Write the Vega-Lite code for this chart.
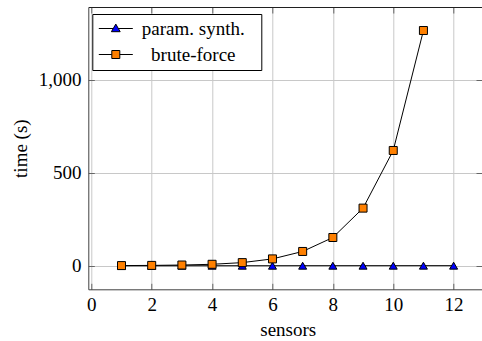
{
  "$schema": "https://vega.github.io/schema/vega-lite/v6.json",
  "width": 393.7,
  "height": 282.3,
  "autosize": {"type": "none"},
  "padding": {"left": 88.3, "top": 7, "right": 0, "bottom": 51.7},
  "background": "white",
  "config": {
    "view": {"stroke": null},
    "font": "Liberation Serif"
  },
  "data": {
    "values": [
      {"sensors": 1, "time": 0.1, "series": "param. synth."},
      {"sensors": 2, "time": 0.1, "series": "param. synth."},
      {"sensors": 3, "time": 0.2, "series": "param. synth."},
      {"sensors": 4, "time": 0.2, "series": "param. synth."},
      {"sensors": 5, "time": 0.3, "series": "param. synth."},
      {"sensors": 6, "time": 0.3, "series": "param. synth."},
      {"sensors": 7, "time": 0.4, "series": "param. synth."},
      {"sensors": 8, "time": 0.4, "series": "param. synth."},
      {"sensors": 9, "time": 0.5, "series": "param. synth."},
      {"sensors": 10, "time": 0.5, "series": "param. synth."},
      {"sensors": 11, "time": 0.6, "series": "param. synth."},
      {"sensors": 12, "time": 0.6, "series": "param. synth."},
      {"sensors": 1, "time": 1, "series": "brute-force"},
      {"sensors": 2, "time": 2, "series": "brute-force"},
      {"sensors": 3, "time": 4, "series": "brute-force"},
      {"sensors": 4, "time": 8, "series": "brute-force"},
      {"sensors": 5, "time": 17, "series": "brute-force"},
      {"sensors": 6, "time": 37, "series": "brute-force"},
      {"sensors": 7, "time": 77, "series": "brute-force"},
      {"sensors": 8, "time": 152, "series": "brute-force"},
      {"sensors": 9, "time": 310, "series": "brute-force"},
      {"sensors": 10, "time": 620, "series": "brute-force"},
      {"sensors": 11, "time": 1265, "series": "brute-force"}
    ]
  },
  "layer": [
    {
      "mark": {"type": "line", "color": "#000", "strokeWidth": 1},
      "encoding": {
        "x": {
          "field": "sensors", "type": "quantitative",
          "scale": {"domain": [-0.1, 12.94], "nice": false, "zero": false},
          "axis": {
            "orient": "bottom",
            "values": [0, 2, 4, 6, 8, 10, 12],
            "grid": true, "gridColor": "#c8c8c8", "gridWidth": 1,
            "domain": true, "domainColor": "#404040", "domainWidth": 1,
            "ticks": true, "tickColor": "#666666", "tickSize": -6, "tickWidth": 1,
            "labelPadding": 12, "labelFont": "Liberation Serif", "labelFontSize": 19, "labelColor": "#000",
            "title": "sensors", "titleFont": "Liberation Serif", "titleFontSize": 19, "titleFontWeight": "normal", "titleColor": "#000",
            "titleX": 199.4, "titleY": 46.5, "titleBaseline": "alphabetic"
          }
        },
        "y": {
          "field": "time", "type": "quantitative",
          "scale": {"domain": [-126.5, 1391.5], "nice": false, "zero": false},
          "axis": {
            "orient": "left",
            "values": [0, 500, 1000],
            "labelExpr": "datum.value === 1000 ? '1,000' : datum.value === 500 ? '500' : '0'",
            "grid": true, "gridColor": "#c8c8c8", "gridWidth": 1,
            "domain": true, "domainColor": "#404040", "domainWidth": 1,
            "ticks": true, "tickColor": "#666666", "tickSize": -6, "tickWidth": 1,
            "labelPadding": 13.3, "labelFont": "Liberation Serif", "labelFontSize": 19, "labelColor": "#000",
            "title": "time (s)", "titleFont": "Liberation Serif", "titleFontSize": 19, "titleFontWeight": "normal", "titleColor": "#000",
            "titleAngle": 270, "titleX": -62.3, "titleBaseline": "alphabetic"
          }
        },
        "detail": {"field": "series", "type": "nominal"}
      }
    },
    {
      "mark": {"type": "point", "filled": true, "opacity": 1, "size": 64, "stroke": "#000", "strokeWidth": 1},
      "encoding": {
        "x": {
          "field": "sensors", "type": "quantitative",
          "scale": {"domain": [-0.1, 12.94], "nice": false, "zero": false},
          "axis": {
            "orient": "top", "values": [0, 2, 4, 6, 8, 10, 12],
            "labels": false, "title": null, "grid": false,
            "domain": true, "domainColor": "#202020", "domainWidth": 1,
            "ticks": true, "tickColor": "#666666", "tickSize": -6, "tickWidth": 1
          }
        },
        "y": {
          "field": "time", "type": "quantitative",
          "scale": {"domain": [-126.5, 1391.5], "nice": false, "zero": false},
          "axis": {
            "orient": "right", "values": [0, 500, 1000],
            "labels": false, "title": null, "grid": false, "domain": false,
            "ticks": true, "tickColor": "#666666", "tickSize": -6, "tickWidth": 1
          }
        },
        "shape": {
          "field": "series", "type": "nominal",
          "scale": {"domain": ["param. synth.", "brute-force"], "range": ["triangle-up", "square"]},
          "legend": null
        },
        "fill": {
          "field": "series", "type": "nominal",
          "scale": {"domain": ["param. synth.", "brute-force"], "range": ["#0000ff", "#ff8000"]},
          "legend": null
        }
      }
    },
    {
      "mark": {"type": "point", "filled": true, "opacity": 0, "size": 64, "stroke": "#000", "strokeWidth": 1},
      "encoding": {
        "x": {"field": "sensors", "type": "quantitative", "scale": {"domain": [-0.1, 12.94], "nice": false, "zero": false}, "axis": null},
        "y": {"field": "time", "type": "quantitative", "scale": {"domain": [-126.5, 1391.5], "nice": false, "zero": false}, "axis": null},
        "shape": {
          "field": "series", "type": "nominal",
          "scale": {"domain": ["param. synth.", "brute-force"], "range": ["M-2.125,0H-0.32M0.32,0H2.125M0,-0.55L0.55,0.4H-0.55Z", "M-2.125,0H-0.5M0.5,0H2.125M-0.5,-0.5H0.5V0.5H-0.5Z"]},
          "legend": {
            "title": "\u2003", "titleOrient": "right", "titlePadding": 12, "titleFontSize": 18,
            "orient": "none", "legendX": 4, "legendY": 7,
            "padding": 5, "strokeColor": "#000", "fillColor": "#fff",
            "symbolSize": 256, "symbolStrokeColor": "#000", "symbolStrokeWidth": 1, "symbolOpacity": 1,
            "labelFont": "Liberation Serif", "labelFontSize": 19, "labelColor": "#000",
            "labelAlign": "center", "labelOffset": 68, "symbolOffset": 9, "rowPadding": 6,
            "encode": {"symbols": {"update": {"stroke": {"value": "#000"}, "strokeWidth": {"value": 1}, "strokeOpacity": {"value": 1}, "opacity": {"value": 1}}}}
          }
        },
        "fill": {
          "field": "series", "type": "nominal",
          "scale": {"domain": ["param. synth.", "brute-force"], "range": ["#0000ff", "#ff8000"]},
          "legend": {
            "title": "\u2003", "titleOrient": "right", "titlePadding": 12, "titleFontSize": 18,
            "orient": "none", "legendX": 4, "legendY": 7,
            "padding": 5, "strokeColor": "#000", "fillColor": "#fff",
            "symbolSize": 256, "symbolStrokeColor": "#000", "symbolStrokeWidth": 1, "symbolOpacity": 1,
            "labelFont": "Liberation Serif", "labelFontSize": 19, "labelColor": "#000",
            "labelAlign": "center", "labelOffset": 68, "symbolOffset": 9, "rowPadding": 6,
            "encode": {"symbols": {"update": {"stroke": {"value": "#000"}, "strokeWidth": {"value": 1}, "strokeOpacity": {"value": 1}, "opacity": {"value": 1}}}}
          }
        }
      }
    }
  ],
  "resolve": {
    "axis": {"x": "independent", "y": "independent"},
    "scale": {"shape": "independent", "fill": "independent"},
    "legend": {"shape": "independent", "fill": "independent"}
  }
}
